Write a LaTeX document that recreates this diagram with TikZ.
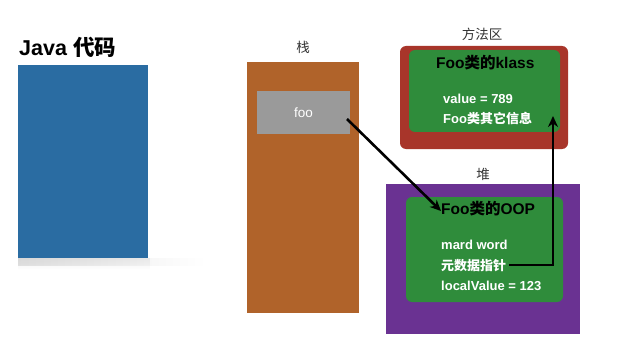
\documentclass[tikz,border=0pt]{standalone}
\usepackage{fontspec}
\setmainfont{Liberation Sans}
\newfontfamily\cjk{Noto Sans CJK SC}
\usetikzlibrary{arrows.meta,fadings}
\definecolor{codeblue}{HTML}{2A6CA2}
\definecolor{stackorange}{HTML}{B0632A}
\definecolor{methodred}{HTML}{A8352A}
\definecolor{heappurple}{HTML}{6A3292}
\definecolor{boxgreen}{HTML}{2F8C3B}
\definecolor{slotgray}{HTML}{9A9A9A}
\tikzset{
  region/.style={inner sep=0pt, outer sep=0pt},
  caption/.style={font=\cjk\fontsize{13.5}{15}\selectfont, text=black!80},
  title/.style={anchor=base west, inner sep=0pt, font=\bfseries\fontsize{15.5}{17}\selectfont, text=black},
  field/.style={anchor=base west, inner sep=0pt, font=\bfseries\fontsize{13}{15}\selectfont, text=white},
  ref/.style={line width=2.6pt, -{Stealth[length=11pt,width=10pt]}, black},
}
\begin{document}
\begin{tikzpicture}[x=1pt,y=-1pt]
\useasboundingbox (0,0) rectangle (622,353);
\fill[white] (0,0) rectangle (622,353);

% Java source panel with a soft floor shadow
\node[anchor=west, inner sep=0pt, font=\bfseries\fontsize{21.5}{24}\selectfont] (javatitle) at (19,47) {Java {\cjk 代码}};
\fill[black, opacity=0.10, path fading=east] (18,258) rectangle (205,266);
\fill[black, opacity=0.06, path fading=south] (18,258) rectangle (150,270);
\fill[codeblue] (18,65) rectangle (148,258);
\coordinate (javapanel) at (83,161);

% Stack
\node[caption] (stacklabel) at (303,47) {栈};
\fill[stackorange] (247,62) rectangle (359,313);
\node[region, fill=slotgray, minimum width=93pt, minimum height=43pt, anchor=north west,
      font=\fontsize{13.5}{15}\selectfont, text=white] (foo) at (257,91) {foo};

% Method area
\node[caption] (methodlabel) at (482,34) {方法区};
\fill[methodred, rounded corners=6pt] (400,46) rectangle (568,149);
\fill[boxgreen, rounded corners=6pt] (409,50) rectangle (560,132);
\node[title] (klass) at (436,68.5) {Foo{\cjk 类的}klass};
\node[field] (value) at (443,104) {value = 789};
\node[field] (other) at (443,123.5) {Foo{\cjk 类其它信息}};

% Heap
\node[caption] (heaplabel) at (483,174) {堆};
\fill[heappurple] (386,184) rectangle (580,334);
\fill[boxgreen, rounded corners=6pt] (406,197) rectangle (563,302);
\node[title] (oop) at (441,214) {Foo{\cjk 类的}OOP};
\node[field] (mark) at (441,249.5) {mard word};
\node[field] (meta) at (441,270) {\cjk 元数据指针};
\node[field] (local) at (441,290.5) {localValue = 123};

% References
\coordinate (fooout) at (347,119);
\coordinate (oopin) at (441,211);
\draw[ref] (fooout) -- (oopin);
\coordinate (metaout) at (509,265);
\coordinate (klassin) at (553,116);
\draw[ref] (metaout) -| (klassin);
\end{tikzpicture}
\end{document}
